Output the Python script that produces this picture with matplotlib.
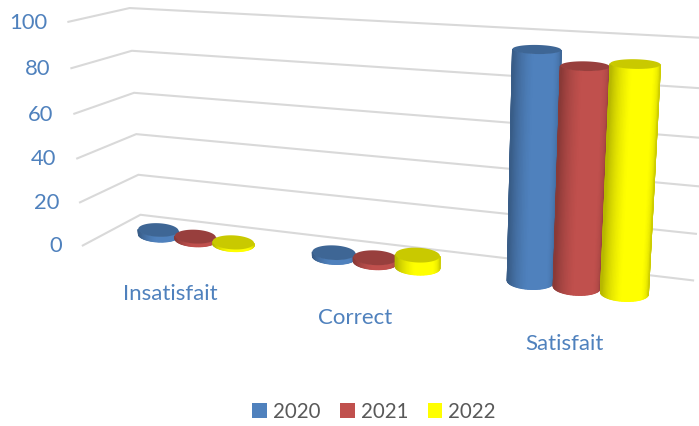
import numpy as np
import matplotlib
matplotlib.use("Agg")
import matplotlib.pyplot as plt
from matplotlib.colors import LinearSegmentedColormap, to_rgb
from matplotlib.patches import Patch, Polygon

categories = ["Insatisfait", "Correct", "Satisfait"]
years = ["2020", "2021", "2022"]
values_2020 = [2.5, 2, 95.7]
values_2021 = [1.5, 2, 90.3]
values_2022 = [1, 5.5, 92.3]
value_ticks = [0, 20, 40, 60, 80, 100]

colors = ["#4f81bd", "#c0504d", "#ffff00"]
text_blue = "#4f81bd"
grid_color = "#d9d9d9"

# world (category pos, depth, value) -> picture pixel, fitted on the wall corners
world_pts = [(0, 1, 0), (0, 1, 100), (0, 0, 0), (0, 0, 100), (3, 1, 0), (3, 1, 100),
             (0.5, 0.5, 0), (1.5, 0.5, 0), (2.5, 0.5, 0)]
pixel_pts = [(140, 215), (130, 8), (83, 245), (68, 22), (693, 280), (708, 38),
             (196, 238), (375, 266), (577, 286)]

rows, rhs = [], []
for (X, Y, Z), (u, v) in zip(world_pts, pixel_pts):
    rows.append([X, Y, Z, 1, 0, 0, 0, 0, -u * X, -u * Y, -u * Z])
    rhs.append(u)
    rows.append([0, 0, 0, 0, X, Y, Z, 1, -v * X, -v * Y, -v * Z])
    rhs.append(v)
cam = np.append(np.linalg.lstsq(np.array(rows, float), np.array(rhs, float), rcond=None)[0], 1).reshape(3, 4)


def project(X, Y, Z):
    p = cam @ np.array([X, Y, Z, 1.0])
    return p[:2] / p[2]


def ring_axes(X, depth, value, radius):
    # half axes of the ellipse at one height, flatter near the top
    centre = project(X, depth, value)
    u = project(X + radius, depth, value) - centre
    u = np.array([u[0], u[1] * 0.35])
    b = np.linalg.norm(u) * (0.34 - 0.16 * value / 100)
    return centre, u, b


def draw_cylinder(ax, X, value, color, depth=0.5, n=48):
    radius = 0.122 - 0.005 * X
    base, u_base, b_base = ring_axes(X, depth, 0, radius)
    top, u_top, b_top = ring_axes(X, depth, value, radius)
    angles = np.linspace(np.pi, 0, n + 1)
    low = base + np.outer(np.cos(angles), u_base) + np.outer(b_base * np.sin(angles), [0, 1])
    high = top + np.outer(np.cos(angles), u_top) + np.outer(b_top * np.sin(angles), [0, 1])
    # light sits a bit right of the middle, left edge goes darkest
    light = np.clip(np.cos(angles - 1.25), 0, 1) ** 1.2
    shade = 0.72 + 0.28 * np.minimum(1, light * 1.15)
    c = np.array(to_rgb(color))
    cmap = LinearSegmentedColormap.from_list("cyl", [c * 0.72, c])
    ax.pcolormesh(np.array([low[:, 0], high[:, 0]]), np.array([low[:, 1], high[:, 1]]),
                  np.array([shade, shade]), cmap=cmap, vmin=0.72, vmax=1,
                  shading="gouraud", zorder=3)
    th = np.linspace(0, 2 * np.pi, 80)
    cap = top + np.outer(np.cos(th), u_top) + np.outer(b_top * np.sin(th), [0, 1])
    ax.add_patch(Polygon(cap, closed=True, facecolor=c * 0.79, edgecolor="none", zorder=3))


plt.rcParams["font.family"] = ["Lato", "DejaVu Sans"]
fig = plt.figure(figsize=(6.99, 4.26), dpi=100)
ax = fig.add_axes([0, 0, 1, 1])
ax.set_xlim(0, 699)
ax.set_ylim(426, 0)
ax.axis("off")

# wall grid
for v in value_ticks:
    front = project(0, 0, v)
    corner = project(0, 1, v)
    end = project(3, 1, v)
    ax.plot([front[0], corner[0], end[0]], [front[1], corner[1], end[1]],
            color=grid_color, lw=1.5, solid_joinstyle="miter", zorder=1)
    ax.text(front[0] - 21, front[1] + 1, str(v), color=text_blue, fontsize=15.8,
            ha="right", va="center")

# cylinders, one group per category
offsets = [-0.22, 0, 0.22]
series = [values_2020, values_2021, values_2022]
for i in range(len(categories)):
    for off, vals, col in zip(offsets, series, colors):
        draw_cylinder(ax, i + 0.5 + off, vals[i], col)

label_pos = [(170, 294), (355, 318), (564, 344)]
for name, (x, y) in zip(categories, label_pos):
    ax.text(x, y, name, color=text_blue, fontsize=16, ha="center", va="center")

handles = [Patch(facecolor=c, label=y) for c, y in zip(colors, years)]
ax.legend(handles=handles, loc="center", bbox_to_anchor=(374 / 699, 1 - 412 / 426), ncol=3,
          frameon=False, fontsize=14.8, labelcolor="#595959", handlelength=0.72,
          handleheight=0.72, handletextpad=0.28, columnspacing=0.95)

fig.savefig("out.png", dpi=100)
plt.close(fig)
